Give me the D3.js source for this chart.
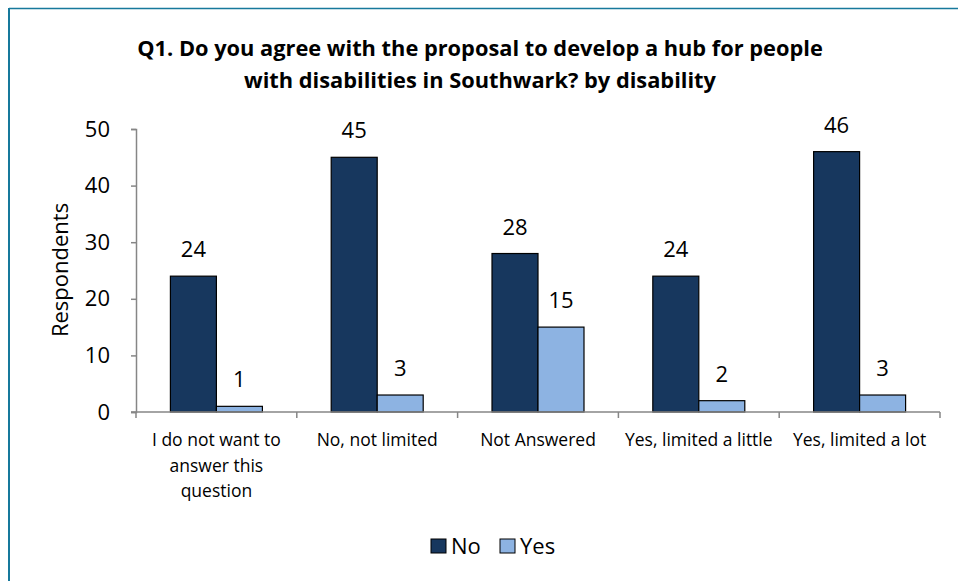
<!DOCTYPE html>
<html><head><meta charset="utf-8">
<script src="https://cdn.jsdelivr.net/npm/d3@7"></script>
<style>
html,body{margin:0;padding:0;background:#fff;}
text{font-family:"Open Sans",sans-serif;fill:#000;}
</style></head>
<body>
<svg id="chart" width="958" height="581"></svg>
<script>
const categories = [["I do not want to","answer this","question"],["No, not limited"],["Not Answered"],["Yes, limited a little"],["Yes, limited a lot"]];
const seriesNames = ["No","Yes"];
const noValues = [24,45,28,24,46];
const yesValues = [1,3,15,2,3];
const yTicks = [0,10,20,30,40,50];
const titleLines = ["Q1. Do you agree with the proposal to develop a hub for people","with disabilities in Southwark? by disability"];
const colors = ["#17375E","#8DB3E2"];

(function(){
const svg = d3.select("#chart");
// border
svg.append("line").attr("x1",9).attr("x2",958).attr("y1",8.5).attr("y2",8.5).attr("stroke","#17799C").attr("stroke-width",1.5);
svg.append("line").attr("x1",9).attr("x2",9).attr("y1",8).attr("y2",581).attr("stroke","#17799C").attr("stroke-width",2);

const pL=136, pR=940, pT=129, pB=412;
const keys = categories.map((c,i)=>i);
const x = d3.scaleBand().domain(keys).range([pL,pR]).paddingInner(0).paddingOuter(0);
const inner = d3.scaleBand().domain([0,1]).range([0,x.bandwidth()]).paddingOuter(0.748).paddingInner(0);
const y = d3.scaleLinear().domain([0,50]).range([pB,pT]);

// title
svg.append("text").attr("text-anchor","middle").attr("font-weight","bold").attr("font-size",21.8)
  .selectAll("tspan").data(titleLines).join("tspan").attr("x",480).attr("y",(d,i)=>56+i*32).text(d=>d);

// y axis
const yAxis = svg.append("g").attr("transform",`translate(${pL},0)`)
  .call(d3.axisLeft(y).tickValues(yTicks).tickSize(5).tickPadding(21));
yAxis.select(".domain").attr("stroke","#868686").attr("stroke-width",1.5);
yAxis.selectAll(".tick line").attr("stroke","#868686").attr("stroke-width",1.5);
yAxis.selectAll(".tick text").attr("font-size",22).attr("font-family",null).attr("fill","#000");

svg.append("text").attr("transform","translate(68,270) rotate(-90)").attr("text-anchor","middle").attr("font-size",22).text("Respondents");

// bars
const data = keys.map(i=>[noValues[i],yesValues[i]]);
const groups = svg.append("g").selectAll("g").data(data).join("g").attr("transform",(d,i)=>`translate(${x(i)},0)`);
groups.selectAll("rect").data(d=>d).join("rect")
  .attr("x",(d,j)=>inner(j)).attr("width",inner.bandwidth())
  .attr("y",d=>y(d)).attr("height",d=>y(0)-y(d))
  .attr("fill",(d,j)=>colors[j]).attr("stroke","#000").attr("stroke-width",1.2);
groups.selectAll("text.val").data(d=>d).join("text").attr("class","val")
  .attr("x",(d,j)=>inner(j)+inner.bandwidth()/2).attr("y",d=>y(d)-19)
  .attr("text-anchor","middle").attr("font-size",22).text(d=>d);

// x axis
const xAxisG = svg.append("g");
xAxisG.append("line").attr("x1",pL-5).attr("x2",pR).attr("y1",pB).attr("y2",pB).attr("stroke","#868686").attr("stroke-width",1.5);
const tickPos = keys.map(i=>x(i)).concat([pR]);
xAxisG.selectAll("line.t").data(tickPos).join("line").attr("class","t")
  .attr("x1",d=>d).attr("x2",d=>d).attr("y1",pB).attr("y2",pB+6).attr("stroke","#868686").attr("stroke-width",1.5);
const catText = svg.append("g").selectAll("text").data(categories).join("text")
  .attr("text-anchor","middle").attr("font-size",17.5);
catText.selectAll("tspan").data((d,i)=>d.map(l=>({l,i}))).join("tspan")
  .attr("x",d=>x(d.i)+x.bandwidth()/2).attr("y",(d,k)=>446+k*25.5).text(d=>d.l);

// legend
const leg = svg.append("g");
const legX = [431,500];
seriesNames.forEach((n,i)=>{
  leg.append("rect").attr("x",legX[i]).attr("y",539).attr("width",15).attr("height",14).attr("fill",colors[i]).attr("stroke","#000").attr("stroke-width",1);
  leg.append("text").attr("x",legX[i]+20).attr("y",554).attr("font-size",22).text(n);
});
})();
</script>
</body></html>
